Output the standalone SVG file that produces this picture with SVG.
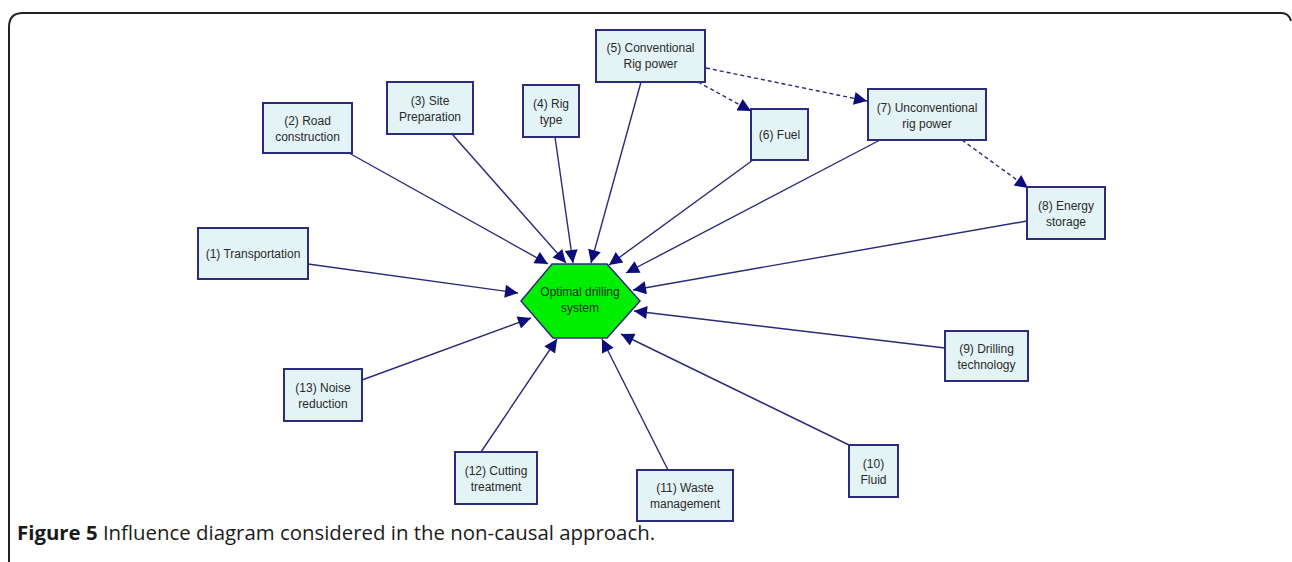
<svg xmlns="http://www.w3.org/2000/svg" width="1292" height="562" viewBox="0 0 1292 562">
<style>
.box{fill:#e4f3f6;stroke:#2c2c7c;stroke-width:2}
.lbl{font-family:"Liberation Sans",Arial,sans-serif;font-size:12px;fill:#2a2a2a;text-anchor:middle}
.c{stroke:#2a2a78;stroke-width:1.4;fill:none}
.d{stroke:#2a2a78;stroke-width:1.4;fill:none;stroke-dasharray:4 3}
.cap{font-family:"Open Sans","Liberation Sans",sans-serif;font-size:20.4px;fill:#1a1a1a}
</style>
<defs>
<marker id="ah" viewBox="0 0 10 10" refX="10" refY="5" markerWidth="17" markerHeight="13" markerUnits="userSpaceOnUse" orient="auto">
<path d="M0,0 L10,5 L0,10 Z" fill="#0c0c7a"/>
</marker>
</defs>
<path d="M9 562 L9 27 Q9 13 23 13 L1281 13 Q1289 13 1291 21" fill="none" stroke="#222" stroke-width="2"/>
<g id="connectors">
<line class="c" x1="308" y1="264" x2="518" y2="293" marker-end="url(#ah)"/>
<line class="c" x1="349" y1="153" x2="548" y2="264" marker-end="url(#ah)"/>
<line class="c" x1="452" y1="134" x2="566" y2="263" marker-end="url(#ah)"/>
<line class="c" x1="555" y1="137" x2="573" y2="263" marker-end="url(#ah)"/>
<line class="c" x1="641" y1="82" x2="591" y2="263" marker-end="url(#ah)"/>
<line class="c" x1="753" y1="160" x2="609" y2="265" marker-end="url(#ah)"/>
<line class="c" x1="880" y1="140" x2="626" y2="273" marker-end="url(#ah)"/>
<line class="c" x1="1027" y1="221" x2="633" y2="290" marker-end="url(#ah)"/>
<line class="c" x1="945" y1="348" x2="634" y2="311" marker-end="url(#ah)"/>
<line class="c" x1="849" y1="445" x2="621" y2="334" marker-end="url(#ah)"/>
<line class="c" x1="668" y1="470" x2="602" y2="339" marker-end="url(#ah)"/>
<line class="c" x1="481" y1="452" x2="557" y2="339" marker-end="url(#ah)"/>
<line class="c" x1="362" y1="380" x2="531" y2="318" marker-end="url(#ah)"/>
<line class="d" x1="698" y1="82" x2="751" y2="111" marker-end="url(#ah)"/>
<line class="d" x1="706" y1="68" x2="867" y2="101" marker-end="url(#ah)"/>
<line class="d" x1="962" y1="140" x2="1028" y2="188" marker-end="url(#ah)"/>
</g>
<g id="n0">
<polygon points="552,264 607,264 640,301 607,338 553,338 521,301" fill="#00ee00" stroke="#2c2c7c" stroke-width="1.5"/>
<text class="lbl" x="580" y="296">Optimal drilling</text>
<text class="lbl" x="580" y="312">system</text>
</g>
<g id="n1"><rect class="box" x="198" y="228" width="110" height="51"/><text class="lbl" x="253" y="258">(1) Transportation</text></g>
<g id="n2"><rect class="box" x="263" y="103" width="89" height="50"/><text class="lbl" x="307.5" y="125">(2) Road</text><text class="lbl" x="307.5" y="141">construction</text></g>
<g id="n3"><rect class="box" x="387" y="82" width="86" height="52"/><text class="lbl" x="430" y="105">(3) Site</text><text class="lbl" x="430" y="121">Preparation</text></g>
<g id="n4"><rect class="box" x="523" y="85" width="56" height="52"/><text class="lbl" x="551" y="108">(4) Rig</text><text class="lbl" x="551" y="124">type</text></g>
<g id="n5"><rect class="box" x="596" y="30" width="109" height="52"/><text class="lbl" x="650.5" y="52">(5) Conventional</text><text class="lbl" x="650.5" y="68">Rig power</text></g>
<g id="n6"><rect class="box" x="751" y="109" width="57" height="51"/><text class="lbl" x="779.5" y="139">(6) Fuel</text></g>
<g id="n7"><rect class="box" x="868" y="89" width="118" height="51"/><text class="lbl" x="927" y="112">(7) Unconventional</text><text class="lbl" x="927" y="128">rig power</text></g>
<g id="n8"><rect class="box" x="1027" y="187" width="78" height="52"/><text class="lbl" x="1066" y="210">(8) Energy</text><text class="lbl" x="1066" y="226">storage</text></g>
<g id="n9"><rect class="box" x="945" y="331" width="83" height="50"/><text class="lbl" x="986.5" y="353">(9) Drilling</text><text class="lbl" x="986.5" y="369">technology</text></g>
<g id="n10"><rect class="box" x="849" y="445" width="49" height="52"/><text class="lbl" x="873.5" y="468">(10)</text><text class="lbl" x="873.5" y="484">Fluid</text></g>
<g id="n11"><rect class="box" x="637" y="470" width="96" height="51"/><text class="lbl" x="685" y="492">(11) Waste</text><text class="lbl" x="685" y="508">management</text></g>
<g id="n12"><rect class="box" x="455" y="452" width="82" height="52"/><text class="lbl" x="496" y="475">(12) Cutting</text><text class="lbl" x="496" y="491">treatment</text></g>
<g id="n13"><rect class="box" x="284" y="369" width="78" height="52"/><text class="lbl" x="323" y="392">(13) Noise</text><text class="lbl" x="323" y="408">reduction</text></g>
<text class="cap" x="17" y="540"><tspan font-weight="bold">Figure 5</tspan> Influence diagram considered in the non-causal approach.</text>
</svg>
